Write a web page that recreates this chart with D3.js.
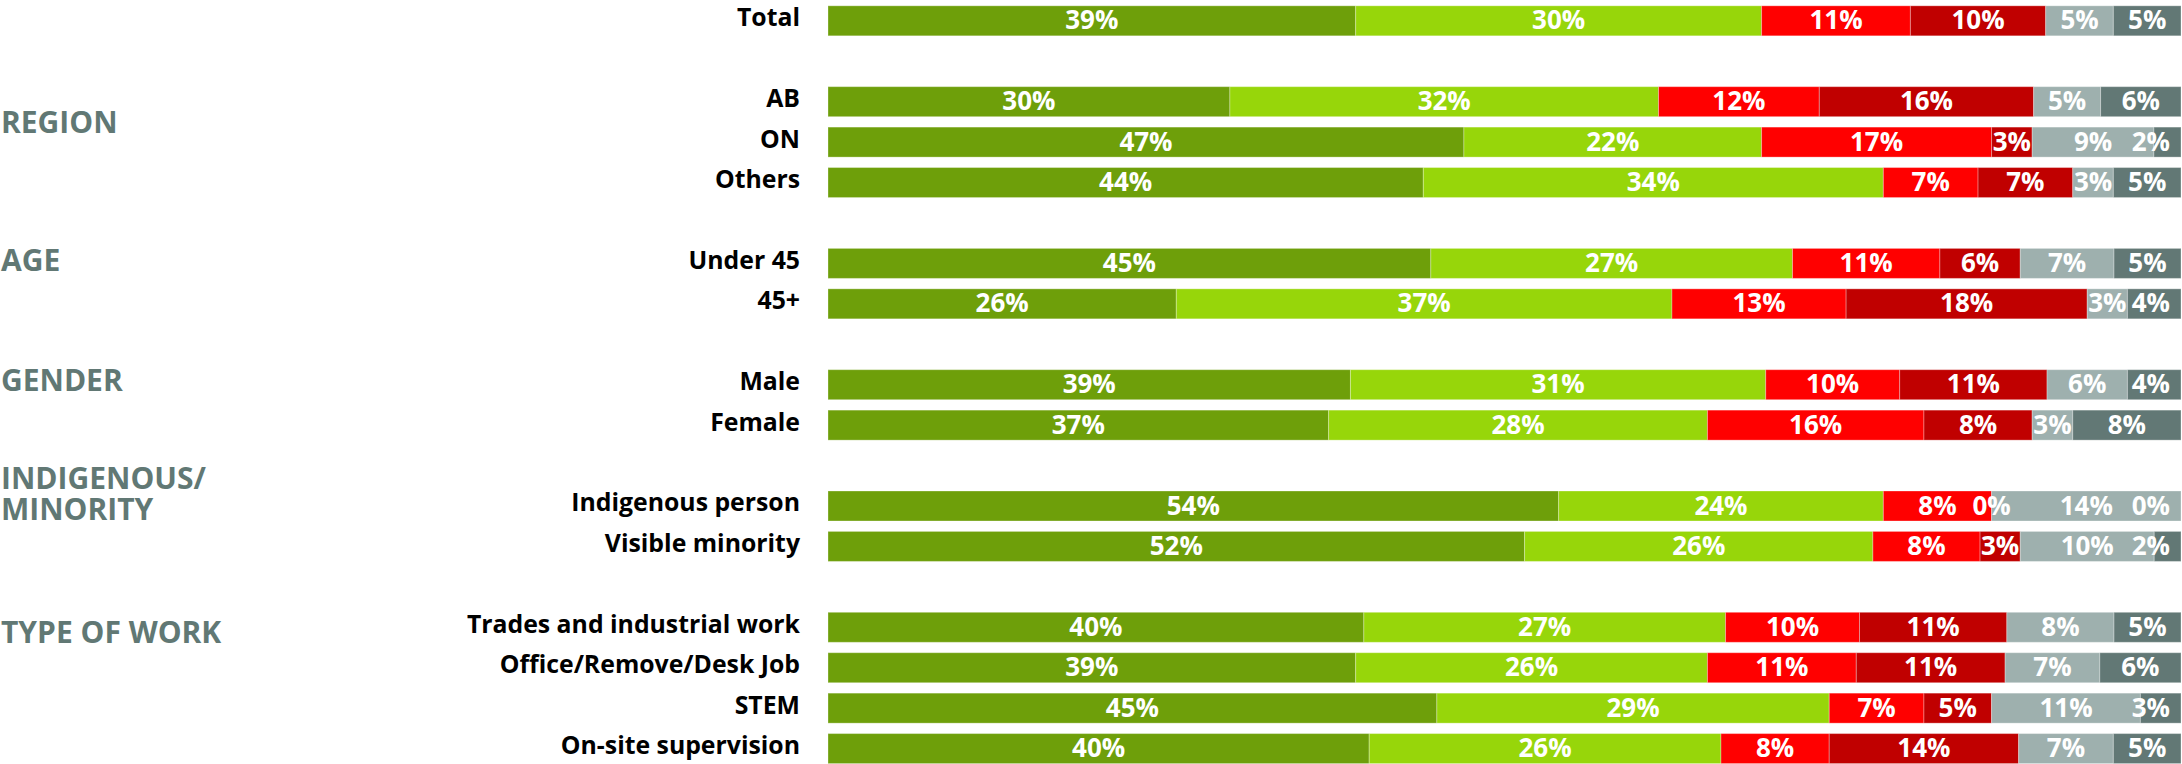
<!DOCTYPE html>
<html>
<head>
<meta charset="utf-8">
<script src="https://cdn.jsdelivr.net/npm/d3@7"></script>
<style>
  html, body { margin: 0; padding: 0; background: #ffffff; }
  svg { display: block; }
</style>
</head>
<body>
<svg id="chart" width="2182" height="764"></svg>
<script>
// ---------- DATA ----------
const groupTitles = ["", "REGION", "AGE", "GENDER", "INDIGENOUS/|MINORITY", "TYPE OF WORK"];
const groupRows = [
  ["Total"],
  ["AB", "ON", "Others"],
  ["Under 45", "45+"],
  ["Male", "Female"],
  ["Indigenous person", "Visible minority"],
  ["Trades and industrial work", "Office/Remove/Desk Job", "STEM", "On-site supervision"]
];
const categories = groupRows.flat();
const seriesNames = ["Series 1", "Series 2", "Series 3", "Series 4", "Series 5", "Series 6"];
const series1 = [39, 30, 47, 44, 45, 26, 39, 37, 54, 52, 40, 39, 45, 40];
const series2 = [30, 32, 22, 34, 27, 37, 31, 28, 24, 26, 27, 26, 29, 26];
const series3 = [11, 12, 17, 7, 11, 13, 10, 16, 8, 8, 10, 11, 7, 8];
const series4 = [10, 16, 3, 7, 6, 18, 11, 8, 0, 3, 11, 11, 5, 14];
const series5 = [5, 5, 9, 3, 7, 3, 6, 3, 14, 10, 8, 7, 11, 7];
const series6 = [5, 6, 2, 5, 5, 4, 4, 8, 0, 2, 5, 6, 3, 5];
const seriesValues = [series1, series2, series3, series4, series5, series6];

// ---------- STYLE / LAYOUT ----------
const colors = ["#6e9f0a", "#97d60a", "#ff0000", "#c00000", "#9eb0ae", "#627875"];
const titleColor = "#617874";
const fontFamily = "'Open Sans', Lato, sans-serif";
const barLeft = 828, barRight = 2181;
const labelRightX = 800;
// baseline offsets of group-title lines relative to the first row's centre
const titleBaselineOffsets = [[0], [31], [8], [6.3], [-17.4, 14.3], [16]];

// Build band domain with spacer slots between groups
const domain = [];
groupRows.forEach((rows, gi) => {
  rows.forEach(r => domain.push(r));
  if (gi < groupRows.length - 1) domain.push("__gap" + gi);
});

const table = categories.map((c, i) => {
  const o = { category: c };
  seriesNames.forEach((s, j) => { o[s] = seriesValues[j][i]; });
  return o;
});

const stack = d3.stack().keys(seriesNames).offset(d3.stackOffsetExpand);
const stacked = stack(table);

const x = d3.scaleLinear().domain([0, 1]).range([barLeft, barRight]);
const y = d3.scaleBand().domain(domain).range([0.6, 768.8]).paddingInner(0.258).paddingOuter(0.129);
const cy = c => y(c) + y.bandwidth() / 2;

const svg = d3.select("#chart");

// Bars
const layers = svg.append("g").selectAll("g")
  .data(stacked)
  .join("g")
  .attr("fill", (d, i) => colors[i]);

layers.selectAll("rect")
  .data(d => d)
  .join("rect")
  .attr("x", d => x(d[0]))
  .attr("y", d => y(d.data.category))
  .attr("width", d => Math.max(0, x(d[1]) - x(d[0])))
  .attr("height", y.bandwidth())
  .attr("stroke", "#ffffff")
  .attr("stroke-opacity", 0.3)
  .attr("stroke-width", 1);

// Value labels
const labelG = svg.append("g")
  .attr("font-family", fontFamily)
  .attr("font-weight", 700)
  .attr("font-size", 26)
  .attr("fill", "#ffffff");

stacked.forEach((layer, li) => {
  layer.forEach((d, ri) => {
    const val = seriesValues[li][ri];
    const cx = (x(d[0]) + x(d[1])) / 2;
    const t = labelG.append("text")
      .attr("text-anchor", "middle")
      .attr("y", cy(d.data.category) + 8.6)
      .text(val + "%");
    const w = t.node().getComputedTextLength();
    const maxX = barRight - 11 - w / 2;
    t.attr("x", Math.min(cx, maxX));
  });
});

// Category labels
svg.append("g")
  .attr("font-family", fontFamily)
  .attr("font-weight", 700)
  .attr("font-size", 24.8)
  .attr("fill", "#000000")
  .selectAll("text")
  .data(categories)
  .join("text")
  .attr("x", labelRightX)
  .attr("y", d => cy(d) + 5.5)
  .attr("text-anchor", "end")
  .text(d => d);

// Group titles
const titleG = svg.append("g")
  .attr("font-family", fontFamily)
  .attr("font-weight", 700)
  .attr("font-size", 30)
  .attr("fill", titleColor);

groupTitles.forEach((title, gi) => {
  if (!title) return;
  const base = cy(groupRows[gi][0]);
  const t = titleG.append("text");
  title.split("|").forEach((ln, li) => {
    t.append("tspan")
      .attr("x", 1)
      .attr("y", base + titleBaselineOffsets[gi][li])
      .text(ln);
  });
});
</script>
</body>
</html>
